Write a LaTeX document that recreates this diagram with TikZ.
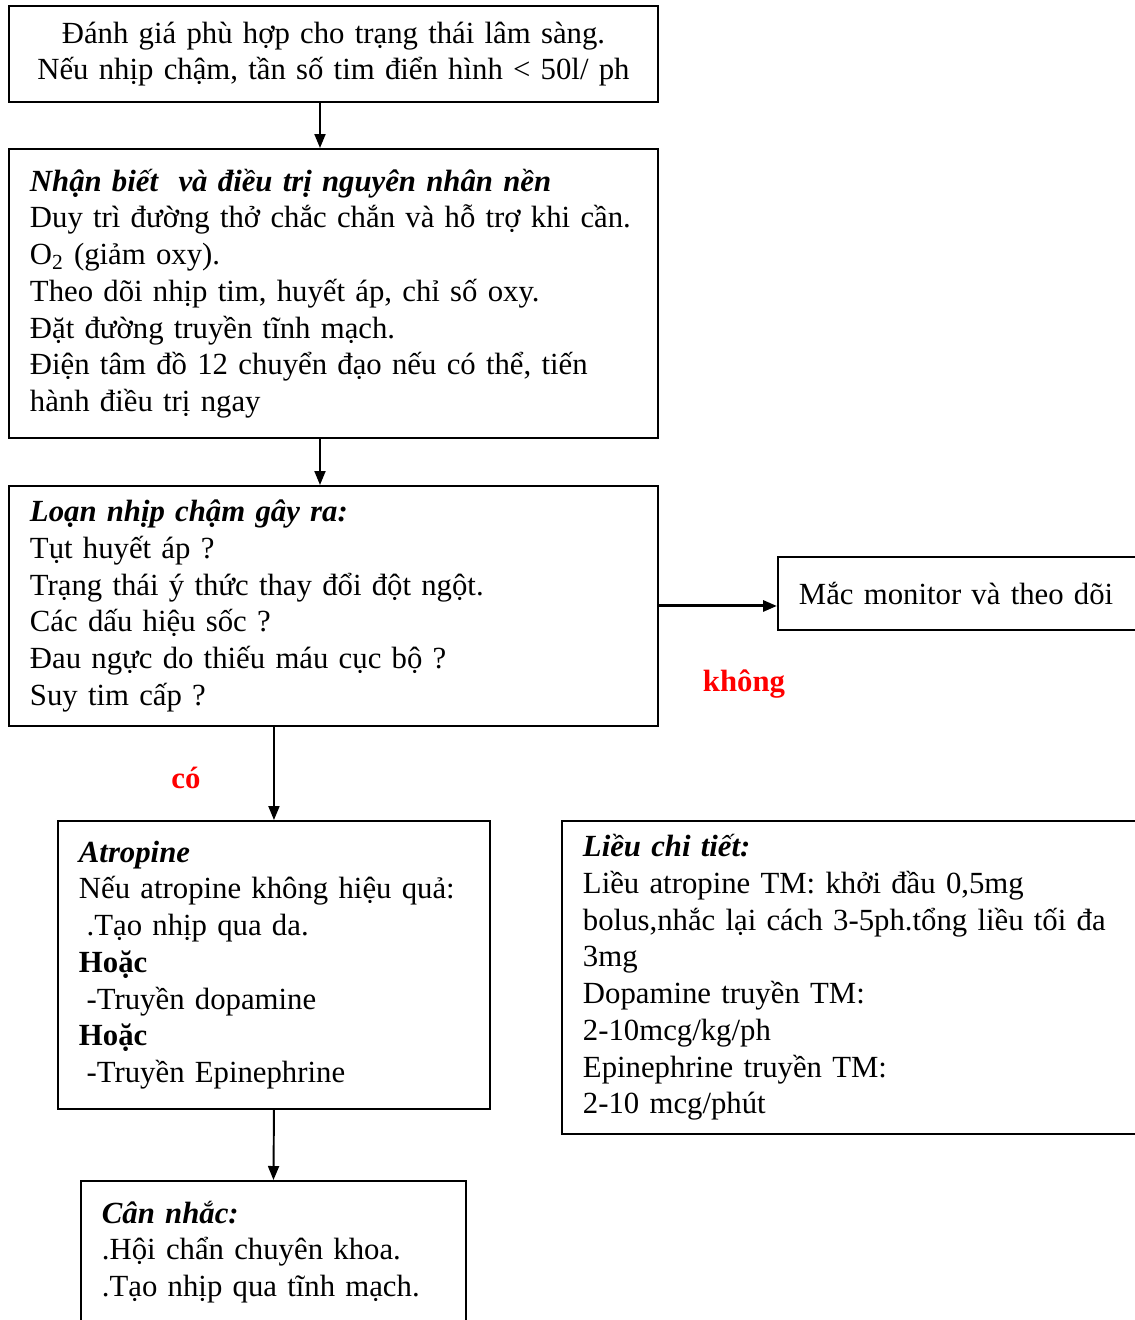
\documentclass[tikz,border=0pt]{standalone}
\usepackage{fontspec}
\setmainfont{Liberation Serif}
\usetikzlibrary{arrows.meta,calc,positioning}
\definecolor{lineC}{HTML}{000000}
\definecolor{yesnoC}{HTML}{FF0000}
\tikzset{
  box/.style={draw=lineC, line width=1.1pt, anchor=north west, align=left, inner xsep=0.42cm,
              inner ysep=0.2cm, font=\fontsize{17.5}{20.9}\selectfont},
  arr/.style={-{Triangle[length=2.8mm,width=2.2mm]}, draw=lineC, line width=1.1pt},
  lab/.style={font=\fontsize{17.5}{20.9}\selectfont\bfseries, text=yesnoC, inner sep=0pt},
}
\newcommand\hd[1]{\textbf{\textit{#1}}}
\newcommand\ind{\hspace*{0.25em}}
\begin{document}
\begin{tikzpicture}
\useasboundingbox (0,0) rectangle (22.70,-26.40);
\clip (0,0) rectangle (22.70,-26.40);
\node[box, align=center, text width=12.14cm, minimum height=1.92cm] (danhgia) at (0.16,-0.10)
  {Đánh giá phù hợp cho trạng thái lâm sàng.\\Nếu nhịp chậm, tần số tim điển hình < 50l/ ph};
\node[box, text width=12.14cm, minimum height=5.78cm] (nhanbiet) at (0.16,-2.96)
  {\hd{Nhận biết\ \ và điều trị nguyên nhân nền}\\
   Duy trì đường thở chắc chắn và hỗ trợ khi cần.\\
   O\textsubscript{2} (giảm oxy).\\
   Theo dõi nhịp tim, huyết áp, chỉ số oxy.\\
   Đặt đường truyền tĩnh mạch.\\
   Điện tâm đồ 12 chuyển đạo nếu có thể, tiến\\
   hành điều trị ngay};
\node[box, text width=12.14cm, minimum height=4.80cm] (loannhip) at (0.16,-9.70)
  {\hd{Loạn nhịp chậm gây ra:}\\
   Tụt huyết áp ?\\
   Trạng thái ý thức thay đổi đột ngột.\\
   Các dấu hiệu sốc ?\\
   Đau ngực do thiếu máu cục bộ ?\\
   Suy tim cấp ?};
\node[box, text width=6.62cm, minimum height=1.46cm] (monitor) at (15.54,-11.12)
  {Mắc monitor và theo dõi};
\node[box, text width=7.80cm, minimum height=5.76cm] (atropine) at (1.14,-16.40)
  {\hd{Atropine}\\
   Nếu atropine không hiệu quả:\\
   \ind.Tạo nhịp qua da.\\
   \textbf{Hoặc}\\
   \ind-Truyền dopamine\\
   \textbf{Hoặc}\\
   \ind-Truyền Epinephrine};
\node[box, text width=10.94cm, minimum height=6.26cm] (lieu) at (11.22,-16.40)
  {\hd{Liều chi tiết:}\\
   Liều atropine TM: khởi đầu 0,5mg\\
   bolus,nhắc lại cách 3-5ph.tổng liều tối đa\\
   3mg\\
   Dopamine truyền TM:\\
   2-10mcg/kg/ph\\
   Epinephrine truyền TM:\\
   2-10 mcg/phút};
\node[box, text width=6.86cm, minimum height=2.84cm] (cannhac) at (1.60,-23.60)
  {\hd{Cân nhắc:}\\
   .Hội chẩn chuyên khoa.\\
   .Tạo nhịp qua tĩnh mạch.};
\coordinate (axis) at (6.40,0);
\draw[arr] (danhgia.south -| axis) -- (nhanbiet.north -| axis);
\draw[arr] (nhanbiet.south -| axis) -- (loannhip.north -| axis);
\draw[arr, line width=1.7pt] (loannhip.east) -- (loannhip.east -| monitor.west);
\draw[arr] (loannhip.south -| atropine.north) -- (atropine.north);
\draw[arr] (atropine.south) -- (cannhac.north);
\node[lab] (khong) at (14.88,-13.68) {không};
\node[lab] (co) at (3.72,-15.56) {có};
\end{tikzpicture}
\end{document}
